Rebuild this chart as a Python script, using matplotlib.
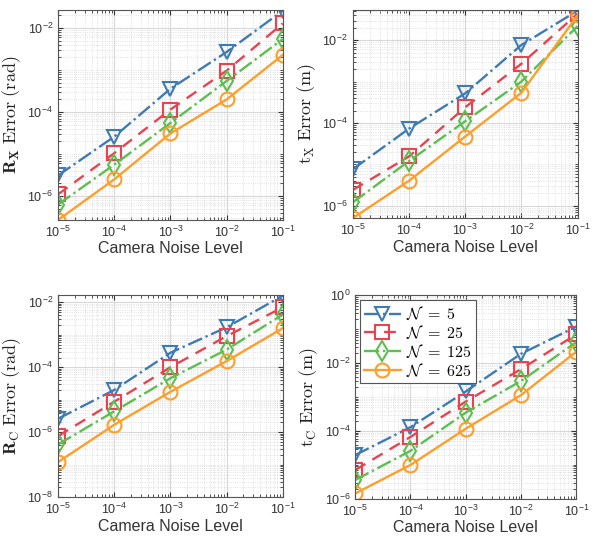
import numpy as np
import matplotlib
matplotlib.use("Agg")
import matplotlib.pyplot as plt
from matplotlib.ticker import LogLocator, NullFormatter

plt.rcParams['mathtext.fontset'] = 'cm'
plt.rcParams['font.family'] = ['Liberation Sans', 'DejaVu Sans']

noise = [1e-5, 1e-4, 1e-3, 1e-2, 1e-1]
labels = [r'$\mathcal{N}\ =\ 5$', r'$\mathcal{N}\ =\ 25$', r'$\mathcal{N}\ =\ 125$', r'$\mathcal{N}\ =\ 625$']

# error values, one list per N
rx_err = [
    [3.1e-6, 2.6e-5, 3.6e-4, 2.7e-3, 0.026],
    [1.1e-6, 1.05e-5, 1.15e-4, 9.7e-4, 0.0129],
    [6.3e-7, 5.6e-6, 5.5e-5, 5.5e-4, 5.5e-3],
    [2.7e-7, 2.5e-6, 3.1e-5, 2.0e-4, 2.3e-3],
]
tx_err = [
    [7.6e-6, 7.3e-5, 5.2e-4, 7.7e-3, 0.052],
    [2.4e-6, 1.55e-5, 2.4e-4, 2.7e-3, 0.044],
    [1.2e-6, 1.2e-5, 1.1e-4, 1.0e-3, 0.022],
    [5.0e-7, 4.0e-6, 4.7e-5, 5.4e-4, 0.040],
]
rc_err = [
    [2.6e-6, 2.0e-5, 2.8e-4, 1.7e-3, 0.016],
    [7.6e-7, 8.7e-6, 1.0e-4, 9.1e-4, 7.0e-3],
    [4.2e-7, 4.4e-6, 4.6e-5, 3.5e-4, 4.2e-3],
    [1.2e-7, 1.7e-6, 1.75e-5, 1.55e-4, 1.6e-3],
]
tc_err = [
    [1.95e-5, 1.3e-4, 1.47e-3, 0.019, 0.12],
    [7.1e-6, 6.7e-5, 7.4e-4, 6.7e-3, 0.071],
    [3.6e-6, 2.6e-5, 3.5e-4, 3.0e-3, 0.042],
    [1.44e-6, 1.0e-5, 1.17e-4, 1.15e-3, 0.022],
]

colors = ['#3f7bb3', '#e8434f', '#5cbf4f', '#ff9e2a']
styles = ['-.', (0, (5, 3.5)), '-.', '-']
markers = ['v', 's', 'd', 'o']

fig = plt.figure(figsize=(6.01, 5.44), dpi=100)

panels = [
    ([0.0965, 0.5956, 0.374, 0.386], rx_err, r'$\mathbf{R}_\mathbf{X}$' + r' $\mathrm{Error\ (rad)}$', (2.7e-7, 0.027)),
    ([0.587, 0.5990, 0.374, 0.382], tx_err, r'$\mathrm{t}_\mathrm{X}$' + r' $\mathrm{Error\ (m)}$', (5e-7, 0.053)),
    ([0.0965, 0.086, 0.374, 0.372], rc_err, r'$\mathbf{R}_\mathrm{C}$' + r' $\mathrm{Error\ (rad)}$', (1e-8, 0.017)),
    ([0.591, 0.083, 0.368, 0.374], tc_err, r'$\mathrm{t}_\mathrm{C}$' + r' $\mathrm{Error\ (m)}$', (1e-6, 1.0)),
]

for i, (pos, data, ylab, ylim) in enumerate(panels):
    ax = fig.add_axes(pos)
    for k in range(4):
        ax.loglog(noise, data[k], linestyle=styles[k], color=colors[k], marker=markers[k],
                  markersize=10, markerfacecolor='none', markeredgewidth=1.5, lw=1.7,
                  label=labels[k])
    ax.set_xlim(1e-5, 1e-1)
    ax.set_xticks(noise)
    ax.xaxis.set_minor_formatter(NullFormatter())
    ax.set_yticks(10.0 ** np.arange(-8, 1, 2))
    ax.set_ylim(*ylim)
    ax.yaxis.set_minor_locator(LogLocator(base=10, subs=np.arange(1, 10), numticks=100))
    ax.yaxis.set_minor_formatter(NullFormatter())
    ax.grid(True, which='major', color='#d8d8d8', lw=0.8)
    ax.grid(True, which='minor', color='#d8d8d8', lw=0.6, ls=':')
    ax.set_axisbelow(True)
    for s in ax.spines.values():
        s.set_color('#555555')
        s.set_linewidth(0.8)
    ax.tick_params(which='both', direction='in', labelsize=9, colors='#333333',
                   top=True, right=True)
    ax.tick_params(which='minor', length=2)
    ax.set_xlabel('Camera Noise Level', fontsize=11.5, color='#333333', labelpad=1)
    ax.set_ylabel(ylab, fontsize=13, color='#222222', labelpad=3)
    if i == 3:
        leg = ax.legend(loc='upper left', fontsize=11.5, fancybox=False, framealpha=1,
                        edgecolor='#555555', handlelength=2.3, borderaxespad=0.3,
                        labelspacing=0.05, borderpad=0.25, handletextpad=0.3)
        leg.get_frame().set_linewidth(0.8)

fig.savefig('out.png', dpi=100)
